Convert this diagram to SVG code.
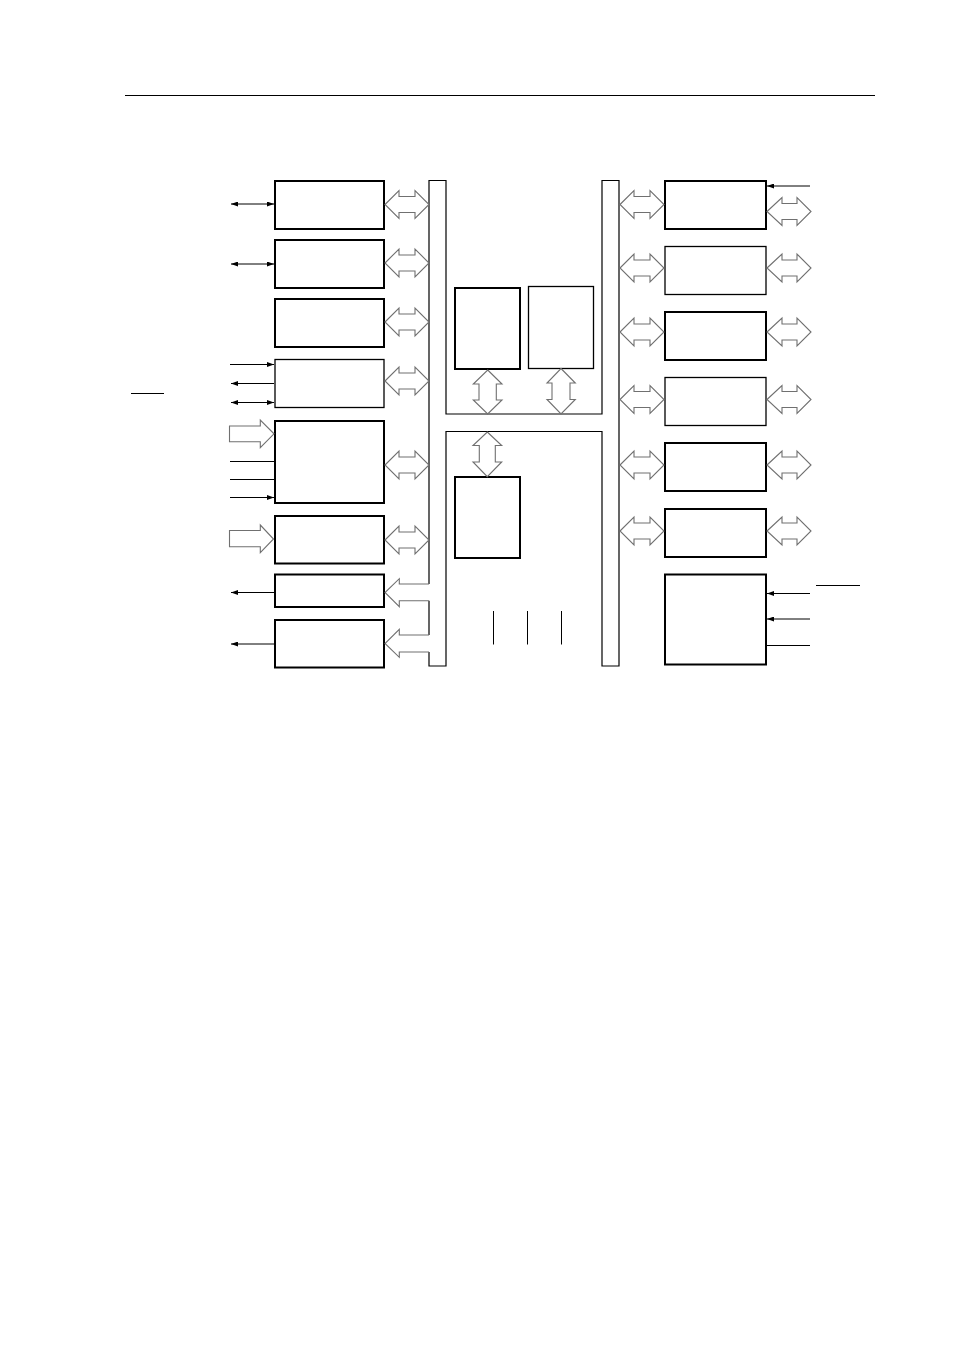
<svg xmlns="http://www.w3.org/2000/svg" width="954" height="1351" viewBox="0 0 954 1351">
<style>
.bk{fill:#fff;stroke:#000;stroke-width:2}
.bn{fill:#fff;stroke:#000;stroke-width:1.3}
.bus{fill:none;stroke:#000;stroke-width:1.2}
.ha{fill:#fff;stroke:#707070;stroke-width:1.1}
.sig{fill:none;stroke:#000;stroke-width:1}
</style>
<defs>
<marker id="ah" markerUnits="userSpaceOnUse" markerWidth="8" markerHeight="5" refX="7" refY="2.5" orient="auto-start-reverse"><path d="M0,0 L7,2.5 L0,5 z" fill="#000"/></marker>
</defs>
<rect width="954" height="1351" fill="#fff"/>
<line x1="125" y1="95.5" x2="875" y2="95.5" stroke="#000" stroke-width="1"/>

<g id="bus">
<path class="bus" d="M429,584 V180.5 H446 V414 H602 V180.5 H619 V666 H602 V431.5 H446 V666 H429 V652 M429,635 V600.7"/>
</g>

<g id="left-blocks">
<rect id="L1" class="bk" x="275" y="181" width="109" height="48"/>
<rect id="L2" class="bk" x="275" y="240" width="109" height="48"/>
<rect id="L3" class="bk" x="275" y="299" width="109" height="48"/>
<rect id="L4" class="bn" x="275" y="359.5" width="109" height="48"/>
<rect id="L5" class="bk" x="275" y="421" width="109" height="82"/>
<rect id="L6" class="bk" x="275" y="516" width="109" height="47.5"/>
<rect id="L7" class="bk" x="275" y="574.5" width="109" height="32.5"/>
<rect id="L8" class="bk" x="275" y="620" width="109" height="47.5"/>
</g>

<g id="center-blocks">
<rect id="C1" class="bk" x="455" y="288" width="65" height="81"/>
<rect id="C2" class="bn" x="528.5" y="286.5" width="65" height="82"/>
<rect id="C3" class="bk" x="455" y="477" width="65" height="81"/>
</g>

<g id="right-blocks">
<rect id="R1" class="bk" x="665" y="181" width="101" height="48"/>
<rect id="R2" class="bn" x="665" y="246.5" width="101" height="48"/>
<rect id="R3" class="bk" x="665" y="312" width="101" height="48"/>
<rect id="R4" class="bn" x="665" y="377.5" width="101" height="48"/>
<rect id="R5" class="bk" x="665" y="443" width="101" height="48"/>
<rect id="R6" class="bk" x="665" y="509" width="101" height="48"/>
<rect id="R7" class="bk" x="665" y="574.5" width="101" height="90"/>
</g>

<g id="connectors">
<polygon class="ha" points="385,204.5 399,190.5 399,196.5 415,196.5 415,190.5 429,204.5 415,218.5 415,212.5 399,212.5 399,218.5"/>
<polygon class="ha" points="385,263 399,249 399,255 415,255 415,249 429,263 415,277 415,271 399,271 399,277"/>
<polygon class="ha" points="385,322 399,308 399,314 415,314 415,308 429,322 415,336 415,330 399,330 399,336"/>
<polygon class="ha" points="385,381 399,367 399,373 415,373 415,367 429,381 415,395 415,389 399,389 399,395"/>
<polygon class="ha" points="385,465 399,451 399,457 415,457 415,451 429,465 415,479 415,473 399,473 399,479"/>
<polygon class="ha" points="385,540 399,526 399,532 415,532 415,526 429,540 415,554 415,548 399,548 399,554"/>
<path class="ha" fill="none" d="M429,584 H399.3 V578.7 L385,592.5 L399.3,606.7 V600.7 H429"/>
<path class="ha" fill="none" d="M429,635 H399.3 V629.3 L385,643.5 L399.3,657.3 V652 H429"/>
<polygon class="ha" points="487.7,370 502,384 496.3,384 496.3,400 502,400 487.7,414 473.3,400 479,400 479,384 473.3,384"/>
<polygon class="ha" points="561,368.5 575.3,383 570,383 570,399.5 575.3,399.5 561,414 547,399.5 552,399.5 552,383 547,383"/>
<polygon class="ha" points="487.3,432 501.7,445.5 495.3,445.5 495.3,462 501.7,462 487.3,476.7 473,462 479.3,462 479.3,445.5 473,445.5"/>
<line class="sig" x1="493.5" y1="611" x2="493.5" y2="644.5"/>
<line class="sig" x1="527.5" y1="611" x2="527.5" y2="644.5"/>
<line class="sig" x1="561.5" y1="611" x2="561.5" y2="644.5"/>
<polygon class="ha" points="620,204.5 634,190.5 634,196.5 650,196.5 650,190.5 664,204.5 650,218.5 650,212.5 634,212.5 634,218.5"/>
<polygon class="ha" points="620,268 634,254 634,260 650,260 650,254 664,268 650,282 650,276 634,276 634,282"/>
<polygon class="ha" points="620,332 634,318 634,324 650,324 650,318 664,332 650,346 650,340 634,340 634,346"/>
<polygon class="ha" points="620,399.5 634,385.5 634,391.5 650,391.5 650,385.5 664,399.5 650,413.5 650,407.5 634,407.5 634,413.5"/>
<polygon class="ha" points="620,465 634,451 634,457 650,457 650,451 664,465 650,479 650,473 634,473 634,479"/>
<polygon class="ha" points="620,531 634,517 634,523 650,523 650,517 664,531 650,545 650,539 634,539 634,545"/>
<polygon class="ha" points="767,211.5 782,197.5 782,203.5 797,203.5 797,197.5 811,211.5 797,225.5 797,219.5 782,219.5 782,225.5"/>
<polygon class="ha" points="767,268 782,254 782,260 797,260 797,254 811,268 797,282 797,276 782,276 782,282"/>
<polygon class="ha" points="767,332 782,318 782,324 797,324 797,318 811,332 797,346 797,340 782,340 782,346"/>
<polygon class="ha" points="767,399.5 782,385.5 782,391.5 797,391.5 797,385.5 811,399.5 797,413.5 797,407.5 782,407.5 782,413.5"/>
<polygon class="ha" points="767,465 782,451 782,457 797,457 797,451 811,465 797,479 797,473 782,473 782,479"/>
<polygon class="ha" points="767,531 782,517 782,523 797,523 797,517 811,531 797,545 797,539 782,539 782,545"/>
<polygon class="ha" points="229.5,426 260.3,426 260.3,420 274,433.8 260.3,447.7 260.3,441.7 229.5,441.7"/>
<polygon class="ha" points="229.5,530.5 260.3,530.5 260.3,525 273.5,539 260.3,552.7 260.3,546.7 229.5,546.7"/>
<line class="sig" x1="231" y1="204" x2="274" y2="204" marker-start="url(#ah)" marker-end="url(#ah)"/>
<line class="sig" x1="231" y1="264" x2="274" y2="264" marker-start="url(#ah)" marker-end="url(#ah)"/>
<line class="sig" x1="230" y1="364.5" x2="274" y2="364.5" marker-end="url(#ah)"/>
<line class="sig" x1="274" y1="383.5" x2="231" y2="383.5" marker-end="url(#ah)"/>
<line class="sig" x1="231" y1="402.5" x2="274" y2="402.5" marker-start="url(#ah)" marker-end="url(#ah)"/>
<line class="sig" x1="131" y1="393.5" x2="164" y2="393.5"/>
<line class="sig" x1="230" y1="461.5" x2="275" y2="461.5"/>
<line class="sig" x1="230" y1="479.5" x2="275" y2="479.5"/>
<line class="sig" x1="230" y1="497.5" x2="274" y2="497.5" marker-end="url(#ah)"/>
<line class="sig" x1="275" y1="592.5" x2="231" y2="592.5" marker-end="url(#ah)"/>
<line class="sig" x1="275" y1="644" x2="231" y2="644" marker-end="url(#ah)"/>
<line class="sig" x1="810" y1="186" x2="767" y2="186" marker-end="url(#ah)"/>
<line class="sig" x1="810" y1="593.5" x2="767" y2="593.5" marker-end="url(#ah)"/>
<line class="sig" x1="810" y1="619" x2="767" y2="619" marker-end="url(#ah)"/>
<line class="sig" x1="766" y1="645.5" x2="810" y2="645.5"/>
<line class="sig" x1="816" y1="585.5" x2="860" y2="585.5"/>
</g>
</svg>
